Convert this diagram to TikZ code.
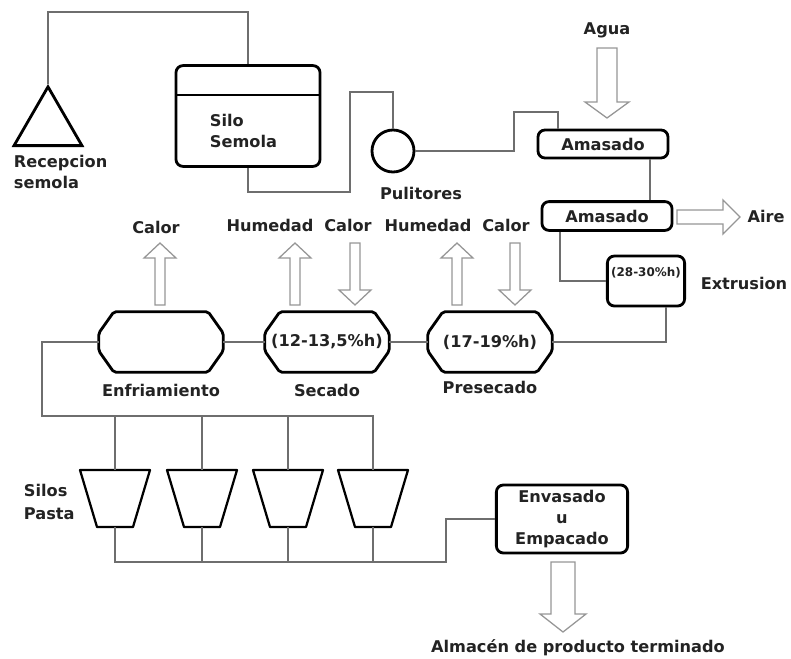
\documentclass[tikz,border=0pt]{standalone}
\usepackage{fontspec}
\setmainfont{DejaVu Sans}[BoldFont={DejaVu Sans Bold}]
\usepackage{tikz}
\usetikzlibrary{
	positioning,
	shapes.geometric
}
\definecolor{LineGray}{RGB}{110,110,110}
\definecolor{ArrGray}{RGB}{150,150,150}
\definecolor{TextBlk}{RGB}{35,35,35}

% hollow arrow: x, tail y, head y, tip y, half shaft, half head
\newcommand{\vhollow}[6]{%
	\draw[hollow] (#1-#5,#2) -- (#1-#5,#3) -- (#1-#6,#3) -- (#1,#4)
		-- (#1+#6,#3) -- (#1+#5,#3) -- (#1+#5,#2) -- cycle;}
% same, lying: y, tail x, head x, tip x, half shaft, half head
\newcommand{\hhollow}[6]{%
	\draw[hollow] (#2,#1-#5) -- (#3,#1-#5) -- (#3,#1-#6) -- (#4,#1)
		-- (#3,#1+#6) -- (#3,#1+#5) -- (#2,#1+#5) -- cycle;}
% outline round a drying stage node
\newcommand{\stageshape}[1]{%
	\draw[stageline] ([xshift=0.38cm]#1.north west) -- ([xshift=-0.38cm]#1.north east)
		-- ([yshift=0.22cm]#1.east) -- ([yshift=-0.22cm]#1.east)
		-- ([xshift=-0.38cm]#1.south east) -- ([xshift=0.38cm]#1.south west)
		-- ([yshift=-0.22cm]#1.west) -- ([yshift=0.22cm]#1.west) -- cycle;}

\begin{document}
\begin{tikzpicture}[x=0.025cm, y=-0.025cm,
		font=\fontsize{11.5}{15}\selectfont\bfseries,
		every node/.style={text=TextBlk},
		link/.style={draw=LineGray, line width=1.2pt},
		hollow/.style={draw=ArrGray, line width=0.9pt, fill=white},
		box/.style={draw, line width=2pt, rounded corners=5pt, inner sep=0pt},
		stage/.style={minimum width=3.1cm, minimum height=1.5cm, inner sep=0pt,
			font=\fontsize{11.5}{12}\selectfont\bfseries},
		stageline/.style={line width=2pt, rounded corners=1.5pt},
		hopper/.style={draw, line width=1.6pt, line join=round}]
	\useasboundingbox (0,0) rectangle (791,659);

	% reception and silo
	\node[draw, line width=2pt, regular polygon, regular polygon sides=3,
		minimum size=1.96cm, inner sep=0pt] (recep) at (48,126) {};
	\node[align=left, anchor=north west] (receplbl) at (9,150) {Recepcion\\semola};
	\node[box, minimum width=3.6cm, minimum height=2.52cm] (silo) at (248,116) {};
	\draw[line width=2pt] (176,95) -- (320,95);
	\node[align=left, anchor=west] (silotxt) at (205,131) {Silo\\Semola};
	\node[draw, line width=2pt, circle, minimum size=1.05cm, inner sep=0pt] (puli) at (393,151) {};
	\node (pulilbl) at (421,193) {Pulitores};

	% kneading and extrusion
	\node (agua) at (607,30) {Agua};
	\node[box, minimum width=3.25cm, minimum height=0.7cm] (ama1) at (603,144) {Amasado};
	\node[box, minimum width=3.25cm, minimum height=0.72cm] (ama2) at (607,216) {Amasado};
	\node (aire) at (766,216) {Aire};
	\node[box, minimum width=1.93cm, minimum height=1.25cm] (extr) at (646,281) {};
	\node[font=\fontsize{8.5}{9}\selectfont\bfseries] (extrtxt) at (646,273) {(28-30\%h)};
	\node (extrlbl) at (744,283) {Extrusion};

	% drying line
	\node[stage] (presec) at (490,342) {(17-19\%h)};
	\node[stage] (secado) at (327,342) {(12-13,5\%h)};
	\node[stage] (enfr) at (161,342) {};
	\stageshape{presec}
	\stageshape{secado}
	\stageshape{enfr}
	\node[below=3pt of presec] (preseclbl) {Presecado};
	\node[below=5pt of secado] (secadolbl) {Secado};
	\node[below=5pt of enfr] (enfrlbl) {Enfriamiento};
	\node (calor1) at (156,227) {Calor};
	\node (hum2) at (270,225) {Humedad};
	\node (calor2) at (348,225) {Calor};
	\node (hum3) at (428,225) {Humedad};
	\node (calor3) at (506,225) {Calor};

	% silos and packing
	\foreach \i/\x in {1/115, 2/202, 3/288, 4/373} {
		\coordinate (st\i) at (\x,470);
		\coordinate (sb\i) at (\x,527);
		\draw[hopper] (\x-35,470) -- (\x+35,470) -- (\x+18,527) -- (\x-18,527) -- cycle;
	}
	\node[align=left, anchor=west] (siloslbl) at (19,502) {Silos\\[2pt]Pasta};
	\node[box, minimum width=3.28cm, minimum height=1.7cm, align=center] (envas) at (562,519) {Envasado\\u\\Empacado};
	\node (almacen) at (578,648) {Almacén de producto terminado};

	% connectors
	\draw[link] (recep.corner 1) |- (silo.north |- 0,12) -- (silo.north);
	\draw[link] (silo.south) |- (350,192) |- (puli.north |- 0,92) -- (puli.north);
	\draw[link] (puli.east) -- (514,151) |- (558,112) -- (558,0 |- ama1.north);
	\draw[link] (650,0 |- ama1.south) -- (650,0 |- ama2.north);
	\draw[link] (560,0 |- ama2.south) |- (extr.west);
	\draw[link] (666,0 |- extr.south) |- (presec.east);
	\draw[link] (presec.west) -- (secado.east);
	\draw[link] (secado.west) -- (enfr.east);
	\draw[link] (enfr.west) -| (42,416) -| (st4);
	\foreach \i in {1,2,3}
		\draw[link] (st\i) -- (st\i |- 0,416);
	\draw[link] (sb1) |- (446,562) |- (envas.west);
	\foreach \i in {2,3,4}
		\draw[link] (sb\i) -- (sb\i |- 0,562);

	% hollow arrows
	\vhollow{607}{48}{102}{118}{10}{22}
	\hhollow{217}{677}{723}{740}{7}{17}
	\vhollow{160}{305}{258}{243}{5}{16}
	\vhollow{295}{305}{258}{243}{5}{16}
	\vhollow{355}{243}{290}{305}{5}{16}
	\vhollow{457}{305}{258}{243}{5}{16}
	\vhollow{515}{243}{290}{305}{5}{16}
	\vhollow{563}{562}{614}{632}{12}{23}
\end{tikzpicture}
\end{document}
